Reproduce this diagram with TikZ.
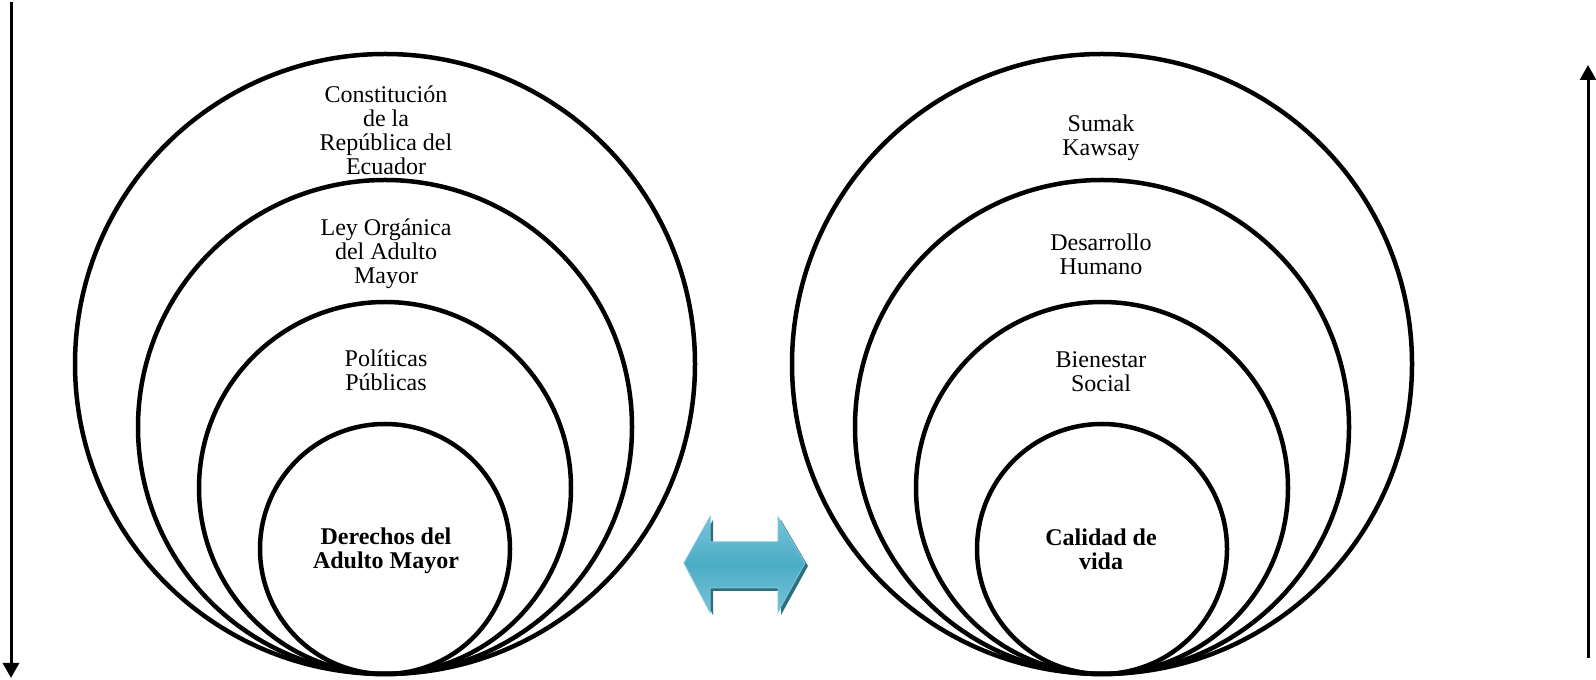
\documentclass[tikz,border=0pt]{standalone}
\usepackage{fontspec}
\setmainfont{Liberation Serif}
\usetikzlibrary{arrows.meta}

\definecolor{aqua}{HTML}{4BACC6}
\definecolor{aqualight}{HTML}{78C3D8}
\definecolor{aquadark}{HTML}{2C6E80}

\tikzset{
  ring/.style={line width=4.5pt},
  lbl/.style={align=center, font=\fontsize{24}{24}\selectfont},
  lblbold/.style={align=center, font=\fontsize{24}{24}\selectfont\bfseries},
  side/.style={line width=3pt, -{Triangle[width=16pt,length=15pt]}}
}

\begin{document}
\begin{tikzpicture}[x=1pt,y=1pt]
    \useasboundingbox (0,0) rectangle (1596,680);
    \foreach \r in {310,247,186,125} {
      \draw[ring] (385,6+\r) circle (\r);
      \draw[ring] (1102,6+\r) circle (\r);
    }
    \node (const) [lbl] at (386,550) {Constitución\\de la\\República del\\Ecuador};
    \node (ley) [lbl] at (386,426) {Ley Orgánica\\del Adulto\\Mayor};
    \node (pol) [lbl] at (386,309.5) {Políticas\\Públicas};
    \node (der) [lblbold] at (386,129) {Derechos del\\Adulto Mayor};
    \node (sumak) [lbl] at (1101,542) {Sumak\\Kawsay};
    \node (desa) [lbl] at (1101,425.5) {Desarrollo\\Humano};
    \node (bien) [lbl] at (1101,308.5) {Bienestar\\Social};
    \node (cal) [lblbold] at (1101,131) {Calidad de\\vida};
    \coordinate (ltop) at (11,678);
    \coordinate (lbot) at (11,2);
    \coordinate (rbot) at (1588,22);
    \coordinate (rtop) at (1588,615);
    \draw[side] (ltop) -- (lbot);
    \draw[side] (rbot) -- (rtop);
    \fill[aquadark] (687,114) -- (713,160) -- (713,135) -- (781,135) -- (781,160)
      -- (808,114) -- (781,65) -- (781,89) -- (713,89) -- (713,65) -- cycle;
    \shade[top color=aqualight, bottom color=aqualight, middle color=aqua, draw=aqualight, line width=1pt]
      (684,117) -- (710,163) -- (710,138) -- (778,138) -- (778,163)
      -- (805,117) -- (778,68) -- (778,92) -- (710,92) -- (710,68) -- cycle;
\end{tikzpicture}
\end{document}
